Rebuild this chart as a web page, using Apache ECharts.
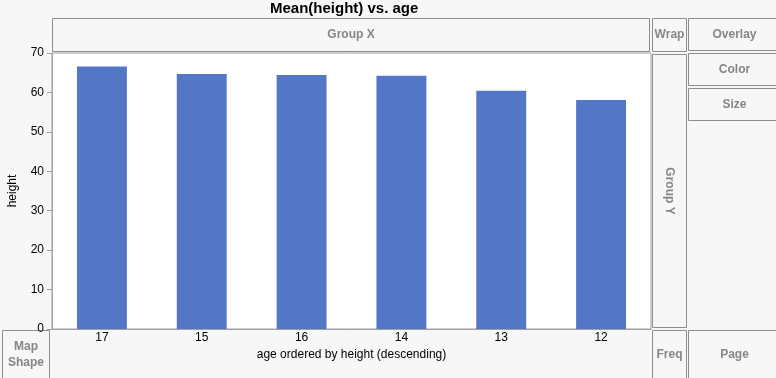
<!DOCTYPE html>
<html><head><meta charset="utf-8">
<script src="https://cdn.jsdelivr.net/npm/echarts@6/dist/echarts.min.js"></script>
<style>html,body{margin:0;padding:0;background:#f7f7f7;}#c{width:776px;height:378px;}</style>
</head><body><div id="c"></div>
<script>
var categories = ['17', '15', '16', '14', '13', '12'];
var meanHeight = [66.6, 64.67, 64.4, 64.2, 60.4, 58.1];
var yTicks = [0, 10, 20, 30, 40, 50, 60, 70];

var chart = echarts.init(document.getElementById('c'), null, {renderer: 'canvas'});
var boxStroke = '#8e8e8e';
var boxText = '#868686';
var font = 'Liberation Sans, Arial, sans-serif';
function box(x, y, w, h, label, rot) {
  var els = [{
    type: 'rect', shape: {x: x + 0.5, y: y + 0.5, width: w, height: h},
    style: {fill: '#f7f7f7', stroke: boxStroke, lineWidth: 1}, silent: true
  }];
  if (label) {
    els.push({
      type: 'text', x: x + w / 2 + 0.5, y: y + h / 2 + 0.5, rotation: rot || 0,
      style: {text: label, fill: boxText, font: 'bold 12px ' + font, align: 'center', verticalAlign: 'middle', lineHeight: 16}
    });
  }
  return els;
}
var graphics = [].concat(
  box(52, 18, 597, 33, 'Group X'),
  box(652, 18, 34, 33, 'Wrap'),
  box(688, 18, 92, 32, 'Overlay'),
  box(688, 53, 92, 32, 'Color'),
  box(688, 88, 92, 32, 'Size'),
  box(652, 54, 34, 273, 'Group Y', -Math.PI / 2),
  box(652, 330, 34, 48, 'Freq'),
  box(688, 330, 92, 48, 'Page'),
  box(2, 330, 47, 48, 'Map\nShape')
);

chart.setOption({
  backgroundColor: '#f7f7f7',
  animation: false,
  title: {
    text: 'Mean(height) vs. age', left: 265, top: -4,
    textStyle: {fontSize: 15, fontWeight: 'bold', color: '#000', fontFamily: font}
  },
  grid: {left: 52, right: 125, top: 53, bottom: 49, show: true, backgroundColor: '#ffffff', borderColor: '#a0a0a0', borderWidth: 1,
    containLabel: false, outerBoundsMode: 'none'},
  xAxis: {
    type: 'category', data: categories,
    name: 'age ordered by height (descending)', nameLocation: 'middle', nameGap: 20,
    nameTextStyle: {fontSize: 12, color: '#000', fontFamily: font},
    axisLine: {lineStyle: {color: '#a0a0a0'}},
    axisTick: {show: false},
    axisLabel: {fontSize: 12, color: '#000', fontFamily: font, margin: 3}
  },
  yAxis: {
    type: 'value', min: 0, max: 70, interval: 10,
    name: 'height', nameLocation: 'middle', nameGap: 33,
    nameTextStyle: {fontSize: 12, color: '#000', fontFamily: font},
    axisLine: {show: true, lineStyle: {color: '#a0a0a0'}},
    axisTick: {show: true, length: 5, lineStyle: {color: '#a0a0a0'}},
    axisLabel: {fontSize: 12, color: '#000', fontFamily: font, margin: 8,
      formatter: function (v) { return yTicks.indexOf(v) >= 0 ? String(v) : ''; }},
    splitLine: {show: false}
  },
  series: [{
    type: 'bar', data: meanHeight, barWidth: '50%',
    itemStyle: {color: '#5377c6'}
  }],
  graphic: graphics
});
</script></body></html>
